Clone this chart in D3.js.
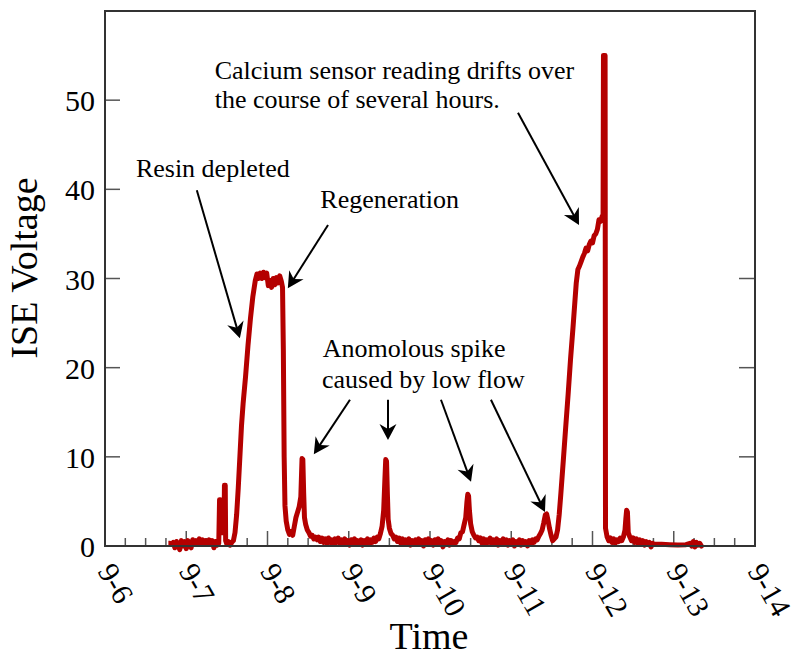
<!DOCTYPE html>
<html>
<head>
<meta charset="utf-8">
<script src="https://cdn.jsdelivr.net/npm/d3@7"></script>
<style>
  body { margin: 0; background: #fff; }
  text { font-family: "Liberation Serif", "Times New Roman", serif; fill: #000; }
</style>
</head>
<body>
<main></main>
<script>
// ISE voltage readings, [day of September, volts]
const startBaseline = [
  [6.78, 0.3], [6.80, 0.3], [6.82, 0.2], [6.84, 0.4], [6.86, -0.2], [6.88, 0.5], [6.90, 0.1], [6.92, -0.4],
  [6.94, 0.6], [6.96, 0.0], [6.98, 0.5], [7.00, -0.3], [7.02, 0.6], [7.04, 0.1], [7.06, -0.2], [7.08, 0.7],
  [7.10, 0.2], [7.12, 0.6], [7.14, 0.3], [7.16, 0.8], [7.18, 0.2], [7.20, 0.7], [7.22, 0.3], [7.24, 0.6],
  [7.26, 0.2], [7.28, 0.7], [7.30, 0.3], [7.32, 0.6], [7.34, -0.2], [7.36, 0.5], [7.38, 0.1], [7.40, 0.3]
];
const resinPeak = [
  [7.41, 5.2], [7.42, 5.2], [7.425, 1.5], [7.465, 1.5], [7.47, 6.8], [7.48, 6.8], [7.485, 0.6],
  [7.50, 0.2], [7.52, 0.5], [7.54, 0.1], [7.56, 0.4], [7.58, 0.6], [7.60, 1.5], [7.62, 3.5], [7.64, 6.5],
  [7.66, 10], [7.68, 13.5], [7.70, 16], [7.73, 19], [7.76, 22.5], [7.79, 25.5], [7.82, 28], [7.85, 29.8],
  [7.87, 30.5], [7.89, 30.0], [7.91, 30.6], [7.93, 30.0], [7.95, 30.7], [7.97, 30.1], [7.99, 30.6],
  [8.01, 29.2], [8.03, 29.8], [8.05, 29.0], [8.07, 30.0], [8.09, 29.3], [8.11, 30.1], [8.13, 29.5],
  [8.15, 30.3], [8.17, 29.7], [8.185, 29.0], [8.195, 22], [8.205, 10], [8.215, 4.5], [8.23, 2.8],
  [8.25, 1.8], [8.27, 1.3], [8.29, 1.6], [8.31, 1.2], [8.33, 2.2], [8.35, 3.2], [8.37, 3.8], [8.39, 4.4],
  [8.41, 5.5], [8.425, 9.8], [8.435, 9.7], [8.445, 6], [8.455, 3.2], [8.47, 2.4], [8.49, 1.8], [8.51, 1.5],
  [8.53, 1.1], [8.55, 1.2], [8.57, 0.8], [8.59, 1.0]
];
const secondBaseline = [
  [8.61, 0.7], [8.63, 1.0], [8.65, 0.5], [8.67, 0.9], [8.69, 0.4], [8.71, 0.8], [8.73, 0.3], [8.75, 0.9],
  [8.77, 0.4], [8.79, 0.7], [8.81, 0.2], [8.83, 0.8], [8.85, 0.4], [8.87, 0.9], [8.89, 0.3], [8.91, 0.7],
  [8.93, 0.2], [8.95, 0.8], [8.97, 0.4], [8.99, 0.6], [9.01, 0.1], [9.03, 0.7], [9.05, 0.3], [9.07, 0.8],
  [9.09, 0.2], [9.11, 0.6], [9.13, 0.3], [9.15, 0.7], [9.17, 0.1], [9.19, 0.6], [9.21, 0.3], [9.23, 0.8],
  [9.25, 0.2], [9.27, 0.7], [9.29, 0.4], [9.31, 0.9], [9.33, 0.5], [9.35, 1.0], [9.37, 0.8], [9.39, 1.4],
  [9.41, 2.2], [9.43, 4.0], [9.445, 7.5], [9.455, 9.7], [9.465, 9.5], [9.475, 6.0], [9.485, 3.0],
  [9.50, 2.0], [9.52, 1.4], [9.54, 1.2], [9.56, 0.8], [9.58, 1.0]
];
const thirdBaseline = [
  [9.60, 0.5], [9.62, 0.9], [9.64, 0.3], [9.66, 0.8], [9.68, 0.2], [9.70, 0.7], [9.72, 0.3], [9.74, 0.8],
  [9.76, 0.1], [9.78, 0.6], [9.80, 0.3], [9.82, 0.7], [9.84, 0.2], [9.86, 0.8], [9.88, 0.3], [9.90, 0.6],
  [9.92, 0.0], [9.94, 0.7], [9.96, 0.3], [9.98, 0.8], [10.00, 0.2], [10.02, 0.6], [10.04, 0.1], [10.06, 0.7],
  [10.08, 0.3], [10.10, 0.8], [10.12, 0.2], [10.14, 0.6], [10.16, -0.1], [10.18, 0.5], [10.20, 0.2],
  [10.22, 0.7], [10.24, 0.1], [10.26, 0.6], [10.28, 0.2], [10.30, 0.5], [10.32, 0.4], [10.34, 0.9],
  [10.36, 0.8], [10.38, 1.5], [10.40, 1.6], [10.42, 2.4], [10.44, 3.2], [10.455, 5.0], [10.465, 5.8],
  [10.475, 5.6], [10.485, 4.0], [10.50, 2.5], [10.52, 1.6], [10.54, 1.2], [10.56, 0.9], [10.58, 1.0]
];
const calciumPeak = [
  [10.60, 0.6], [10.62, 0.9], [10.64, 0.3], [10.66, 0.8], [10.68, 0.2], [10.70, 0.7], [10.72, 0.4],
  [10.74, 0.9], [10.76, 0.2], [10.78, 0.7], [10.80, 0.3], [10.82, 0.8], [10.84, 0.1], [10.86, 0.6],
  [10.88, 0.3], [10.90, 0.8], [10.92, 0.2], [10.94, 0.7], [10.96, 0.1], [10.98, 0.6], [11.00, 0.3],
  [11.02, 0.7], [11.04, 0.0], [11.06, 0.5], [11.08, 0.2], [11.10, 0.7], [11.12, 0.1], [11.14, 0.6],
  [11.16, 0.2], [11.18, 0.5], [11.20, 0.0], [11.22, 0.6], [11.24, 0.3], [11.26, 0.7], [11.28, 0.4],
  [11.30, 0.8], [11.32, 0.7], [11.34, 1.1], [11.36, 1.4], [11.38, 1.8], [11.40, 2.6], [11.42, 3.5],
  [11.435, 3.6], [11.45, 3.0], [11.47, 2.0], [11.49, 1.2], [11.51, 0.6], [11.53, 0.8], [11.55, 1.0],
  [11.57, 1.8], [11.59, 3.5], [11.61, 5.8], [11.64, 9.5], [11.67, 13.3], [11.70, 17], [11.73, 21],
  [11.76, 24.5], [11.78, 27], [11.80, 29.5], [11.82, 31], [11.84, 31.4], [11.86, 31.9], [11.88, 32.4],
  [11.90, 32.8], [11.92, 33.4], [11.94, 33.1], [11.96, 33.8], [11.98, 34.2], [12.00, 34.0], [12.02, 34.8],
  [12.04, 35.0], [12.06, 35.5], [12.08, 36.6], [12.10, 36.4], [12.12, 37.0], [12.13, 36.8], [12.135, 55],
  [12.155, 55], [12.16, 2.0]
];
const endBaseline = [
  [12.18, 1.0], [12.20, 0.6], [12.22, 0.9], [12.24, 0.4], [12.26, 0.8], [12.28, 0.3], [12.30, 0.7],
  [12.32, 0.5], [12.34, 0.9], [12.36, 0.6], [12.38, 1.0], [12.40, 1.8], [12.41, 3.0], [12.42, 4.0],
  [12.43, 3.8], [12.44, 1.5], [12.46, 1.0], [12.48, 0.6], [12.50, 0.9], [12.52, 0.4], [12.54, 0.8],
  [12.56, 0.3], [12.58, 0.7], [12.60, 0.2], [12.62, 0.6], [12.64, 0.1], [12.66, 0.5], [12.68, 0.2],
  [12.70, 0.4], [12.72, -0.1], [12.74, 0.3], [12.76, 0.2], [12.85, 0.2], [12.95, 0.15], [13.05, 0.1],
  [13.15, 0.15], [13.20, 0.3], [13.22, 0.0], [13.24, 0.5], [13.26, -0.1], [13.28, 0.4], [13.30, 0.1],
  [13.32, 0.3], [13.34, 0.0], [13.36, 0.2]
];

const xTickDays = [6, 7, 8, 9, 10, 11, 12, 13, 14];
const xTickLabels = ["9-6", "9-7", "9-8", "9-9", "9-10", "9-11", "9-12", "9-13", "9-14"];
const yTicks = [0, 10, 20, 30, 40, 50];
const yRightTicks = [10, 20, 30];

// annotation text, anchored at [day, volts]
const notes = [
  { text: "Calcium sensor reading drifts over", at: [7.35, 52.4] },
  { text: "the course of several hours.", at: [7.35, 49.1] },
  { text: "Resin depleted", at: [6.38, 41.4] },
  { text: "Regeneration", at: [8.65, 37.9] },
  { text: "Anomolous spike", at: [8.68, 21.2] },
  { text: "caused by low flow", at: [8.67, 17.7] }
];
// arrows, [from, to] in [day, volts]
const arrows = [
  [[7.13, 39.9], [7.66, 23.3]],
  [[8.745, 36.0], [8.25, 28.9]],
  [[9.015, 16.4], [8.57, 10.3]],
  [[9.483, 16.4], [9.483, 11.9]],
  [[10.135, 16.4], [10.505, 7.2]],
  [[10.75, 16.4], [11.415, 3.8]],
  [[11.083, 48.6], [11.834, 36.0]]
];

const readings = [].concat(startBaseline, resinPeak, secondBaseline, thirdBaseline, calciumPeak, endBaseline);

const margin = { top: 11, left: 105 };
const width = 650, height = 535;

const svg = d3.select("main").append("svg")
              .attr("width", 792)
              .attr("height", 656);

const x = d3.scaleLinear().domain([6, 14]).range([margin.left, margin.left + width]);
const y = d3.scaleLinear().domain([0, 60]).range([margin.top + height, margin.top]);

// ticks
const ticks = svg.append("g").attr("stroke", "#555").attr("stroke-width", 1.5);
const minorDays = d3.range(6, 14, 0.25).filter(d => d % 1 !== 0);
ticks.selectAll(".minor").data(minorDays).enter().append("line")
     .attr("x1", d => x(d)).attr("x2", d => x(d))
     .attr("y1", y(0)).attr("y2", y(0) - 8);
ticks.selectAll(".major").data(xTickDays).enter().append("line")
     .attr("x1", d => x(d)).attr("x2", d => x(d))
     .attr("y1", y(0)).attr("y2", y(0) - 15);
ticks.selectAll(".ly").data(yTicks).enter().append("line")
     .attr("x1", x(6)).attr("x2", x(6) + 15)
     .attr("y1", d => y(d)).attr("y2", d => y(d));
ticks.selectAll(".ry").data(yRightTicks).enter().append("line")
     .attr("x1", x(14)).attr("x2", x(14) - 16)
     .attr("y1", d => y(d)).attr("y2", d => y(d));

// the reading
const line = d3.line().x(d => x(d[0])).y(d => y(d[1]));
svg.append("path")
   .datum(readings)
   .attr("d", line)
   .attr("fill", "none")
   .attr("stroke", "#b40000")
   .attr("stroke-width", 5)
   .attr("stroke-linejoin", "round");

// frame
svg.append("rect")
   .attr("x", margin.left).attr("y", margin.top)
   .attr("width", width).attr("height", height)
   .attr("fill", "none").attr("stroke", "#333").attr("stroke-width", 2);

// tick labels
svg.append("g").selectAll("text").data(yTicks).enter().append("text")
   .attr("x", x(6) - 10)
   .attr("y", d => y(d) + 11)
   .attr("text-anchor", "end")
   .attr("font-size", 30)
   .text(d => d);

svg.append("g").selectAll("text").data(xTickDays).enter().append("text")
   .attr("transform", d => `translate(${x(d) - 8},${y(0) + 25}) rotate(60)`)
   .attr("font-size", 30)
   .text((d, i) => xTickLabels[i]);

// axis titles
svg.append("text")
   .attr("transform", `translate(37,268) rotate(-90)`)
   .attr("text-anchor", "middle")
   .attr("font-size", 38)
   .text("ISE Voltage");
svg.append("text")
   .attr("x", 429).attr("y", 649)
   .attr("text-anchor", "middle")
   .attr("font-size", 38)
   .text("Time");

// annotations
svg.append("g").selectAll("text").data(notes).enter().append("text")
   .attr("x", d => x(d.at[0]))
   .attr("y", d => y(d.at[1]))
   .attr("font-size", 26)
   .text(d => d.text);

const arrowG = svg.append("g");
arrows.forEach(([from, to]) => {
  const x0 = x(from[0]), y0 = y(from[1]), x1 = x(to[0]), y1 = y(to[1]);
  const ang = Math.atan2(y1 - y0, x1 - x0) * 180 / Math.PI;
  const len = Math.hypot(x1 - x0, y1 - y0);
  const g = arrowG.append("g").attr("transform", `translate(${x0},${y0}) rotate(${ang})`);
  g.append("line")
   .attr("x1", 0).attr("y1", 0).attr("x2", len - 9).attr("y2", 0)
   .attr("stroke", "#000").attr("stroke-width", 2);
  g.append("path")
   .attr("d", `M${len},0 L${len - 16},-8.5 L${len - 11},0 L${len - 16},8.5 Z`)
   .attr("fill", "#000");
});
</script>
</body>
</html>
